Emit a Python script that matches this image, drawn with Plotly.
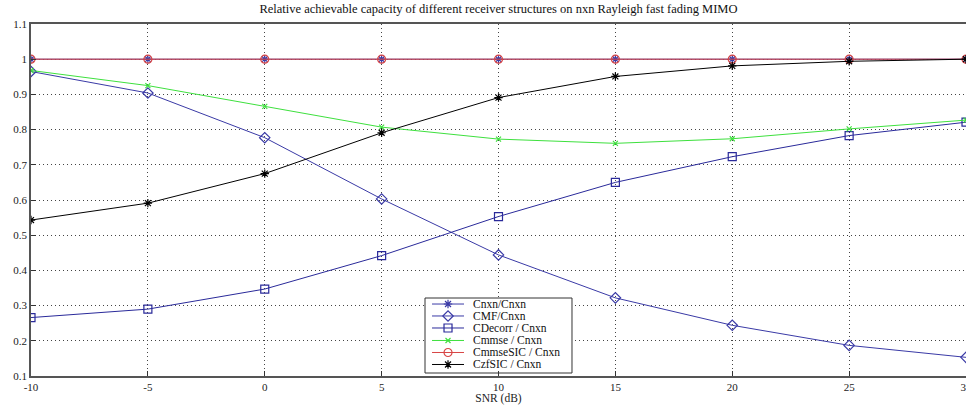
import plotly.graph_objects as go

snr = [-10, -5, 0, 5, 10, 15, 20, 25, 30]
c_nxn = [1, 1, 1, 1, 1, 1, 1, 1, 1]
c_mf = [0.965, 0.904, 0.777, 0.603, 0.444, 0.322, 0.244, 0.187, 0.153]
c_decorr = [0.266, 0.290, 0.347, 0.442, 0.553, 0.650, 0.723, 0.783, 0.821]
c_mmse = [0.968, 0.925, 0.866, 0.807, 0.773, 0.761, 0.774, 0.802, 0.827]
c_mmsesic = [1, 1, 1, 1, 1, 1, 1, 1, 1]
c_zfsic = [0.543, 0.591, 0.675, 0.791, 0.891, 0.951, 0.981, 0.994, 1.0]

series_names = ["Cnxn/Cnxn", "CMF/Cnxn", "CDecorr / Cnxn", "Cmmse / Cnxn",
                "CmmseSIC / Cnxn", "CzfSIC / Cnxn"]

x_ticks = [-10, -5, 0, 5, 10, 15, 20, 25, 30]
y_ticks = [0.1, 0.2, 0.3, 0.4, 0.5, 0.6, 0.7, 0.8, 0.9, 1.0, 1.1]
y_labels = ["0.1", "0.2", "0.3", "0.4", "0.5", "0.6", "0.7", "0.8", "0.9", "1", "1.1"]

BLUE = "#3a3aa6"
FONT = "Liberation Serif"
TXT = "#222222"

styles = [
    (BLUE, "asterisk-open", 7),
    (BLUE, "diamond-open", 8),
    ("#2a2a9a", "square-open", 8),
    ("#3ee03e", "x-thin-open", 5),
    ("#d84545", "circle-open", 8),
    ("#000000", "asterisk-open", 7),
]
values = [c_nxn, c_mf, c_decorr, c_mmse, c_mmsesic, c_zfsic]

fig = go.Figure()
for name, vals, (col, sym, sz) in zip(series_names, values, styles):
    fig.add_trace(go.Scatter(
        x=snr, y=vals, name=name, mode="lines+markers", showlegend=False,
        line=dict(color=col, width=1),
        marker=dict(symbol=sym, size=sz, color=col, line=dict(color=col, width=1.2)),
    ))

# ---- MATLAB-style legend box drawn on an overlay axis in plot-fraction units ----
box_x0, box_x1 = 0.4214, 0.5786
box_y0, box_y1 = 0.0085, 0.2216
row_y = [0.2045, 0.1705, 0.1364, 0.1009, 0.0668, 0.0327]
seg_x0, seg_x1, mark_x, text_x = 0.4289, 0.4631, 0.4460, 0.4706

fig.add_trace(go.Scatter(
    x=[box_x0, box_x1, box_x1, box_x0, box_x0],
    y=[box_y0, box_y0, box_y1, box_y1, box_y0],
    xaxis="x2", yaxis="y2", mode="lines", fill="toself", fillcolor="white",
    line=dict(color="#333333", width=1), showlegend=False, hoverinfo="skip"))

for name, ry, (col, sym, sz) in zip(series_names, row_y, styles):
    fig.add_trace(go.Scatter(
        x=[seg_x0, seg_x1], y=[ry, ry], xaxis="x2", yaxis="y2", mode="lines",
        line=dict(color=col, width=1), showlegend=False, hoverinfo="skip"))
    fig.add_trace(go.Scatter(
        x=[mark_x], y=[ry], xaxis="x2", yaxis="y2", mode="markers",
        marker=dict(symbol=sym, size=sz, color=col, line=dict(color=col, width=1.2)),
        showlegend=False, hoverinfo="skip"))
    fig.add_annotation(x=text_x, y=ry, xref="x2", yref="y2", text=name,
                       showarrow=False, xanchor="left", yanchor="middle",
                       font=dict(family=FONT, size=11.5, color="#111111"))

axis_common = dict(
    showgrid=True, gridcolor="#444444", griddash="1px,3px", gridwidth=1,
    showline=True, linecolor="#555555", linewidth=1.5, mirror=True,
    ticks="inside", ticklen=5, tickcolor="#333333", automargin=False,
    zeroline=False, tickfont=dict(family=FONT, size=11, color=TXT),
    ticklabeloverflow="allow",
)

fig.update_xaxes(range=[-10, 30], tickvals=x_ticks, ticktext=[str(v) for v in x_ticks],
                 title=dict(text="SNR (dB)", font=dict(family=FONT, size=11.5, color=TXT), standoff=3),
                 **axis_common)
fig.update_yaxes(range=[0.1, 1.1], tickvals=y_ticks, ticktext=y_labels, **axis_common)

fig.update_layout(
    width=966, height=405,
    margin=dict(l=31, r=0, t=24, b=29, autoexpand=False),
    paper_bgcolor="white", plot_bgcolor="white",
    xaxis2=dict(overlaying="x", range=[0, 1], visible=False, fixedrange=True),
    yaxis2=dict(overlaying="y", range=[0, 1], visible=False, fixedrange=True),
    title=dict(text="Relative achievable capacity of different receiver structures on nxn Rayleigh fast fading MIMO",
               font=dict(family=FONT, size=12.5, color="#111111"), x=0.516, xanchor="center",
               y=0.978, yanchor="middle", yref="container", automargin=False),
    showlegend=False,
    font=dict(family=FONT),
)

fig.write_html("out.html", config={"displayModeBar": False},
               post_script="document.body.style.margin='0';document.body.style.overflow='hidden';")
